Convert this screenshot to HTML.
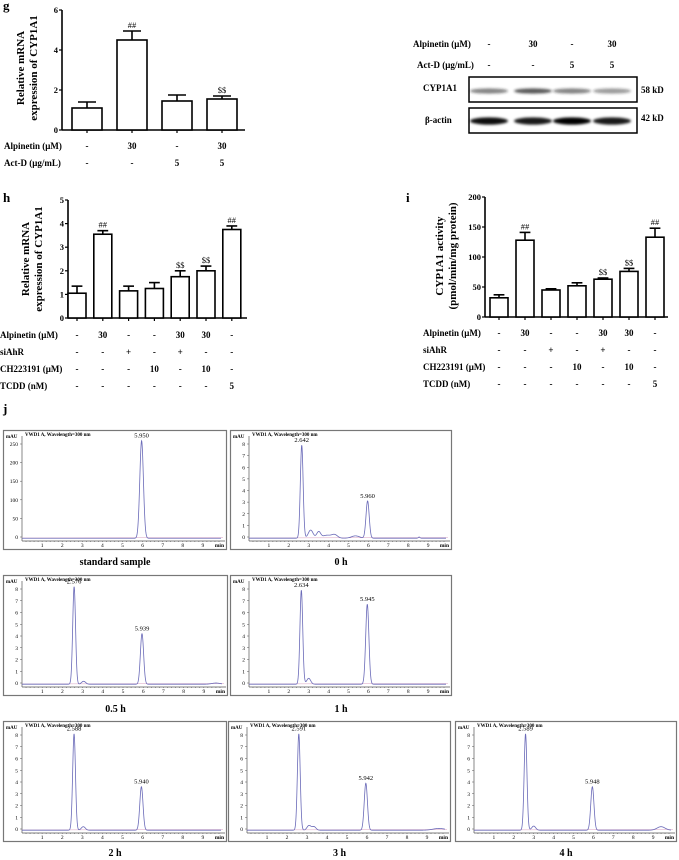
<!DOCTYPE html>
<html><head><meta charset="utf-8">
<style>
html,body{margin:0;padding:0;background:#fff;}
svg{display:block;font-family:"Liberation Serif",serif;}
.b{font-weight:bold;}
</style></head>
<body>
<svg id="fig" width="679" height="860" viewBox="0 0 679 860" xmlns="http://www.w3.org/2000/svg">
<defs><filter id="blur" x="-20%" y="-100%" width="140%" height="300%"><feGaussianBlur stdDeviation="1.2"/></filter></defs>
</svg>
<script>
// ---- panel g data ----
const gVals=[1.1,4.5,1.45,1.55];
const gErr=[0.3,0.45,0.3,0.15];
const gMarks=['','##','','$$'];
const gTicks=[0,2,4,6];
const gRows=['Alpinetin (μM)','Act-D (μg/mL)'];
const gRowVals=[['-','30','-','30'],['-','-','5','5']];
// ---- panel h data ----
const hVals=[1.05,3.55,1.15,1.25,1.75,2.0,3.75];
const hErr=[0.3,0.15,0.2,0.25,0.25,0.2,0.15];
const hMarks=['','##','','','$$','$$','##'];
const hTicks=[0,1,2,3,4,5];
// ---- panel i data ----
const iVals=[32,128,45,52,63,76,133];
const iErr=[5,13,2,5,2,5,15];
const iMarks=['','##','','','$$','$$','##'];
const iTicks=[0,50,100,150,200];
const hiRows=['Alpinetin (μM)','siAhR','CH223191 (μM)','TCDD (nM)'];
const hiRowVals=[['-','30','-','-','30','30','-'],['-','-','+','-','+','-','-'],['-','-','-','10','-','10','-'],['-','-','-','-','-','-','5']];
// ---- western blot ----
const blotLanes=['-','30','-','30'];
const blotActD=['-','-','5','5'];
const cypIntensity=[0.55,0.75,0.55,0.45];
const actinIntensity=[0.95,0.9,1.0,0.9];
// ---- chromatograms: peaks [time, height, width] ----
const chromNames=['standard sample','0 h','0.5 h','1 h','2 h','3 h','4 h'];
const chromMax=[280,8.6,8.6,8.6,8.6,8.6,8.6];
const chromTicks=[[0,50,100,150,200,250],[0,1,2,3,4,5,6,7,8],[0,1,2,3,4,5,6,7,8],[0,1,2,3,4,5,6,7,8],[0,1,2,3,4,5,6,7,8],[0,1,2,3,4,5,6,7,8],[0,1,2,3,4,5,6,7,8]];
const chromPeaks=[
 [[5.95,262,0.09]],
 [[2.65,8.0,0.07],[3.1,0.7,0.12],[3.5,0.55,0.1],[3.9,0.25,0.2],[4.3,0.3,0.15],[5.35,0.2,0.2],[5.96,3.2,0.08],[8.55,0.1,0.04]],
 [[2.58,8.3,0.07],[3.05,0.25,0.1],[5.94,4.3,0.08],[9.6,0.1,0.2]],
 [[2.63,8.0,0.07],[3.0,0.5,0.1],[5.945,6.8,0.08]],
 [[2.59,8.2,0.07],[3.05,0.3,0.1],[5.94,3.7,0.08]],
 [[2.59,8.2,0.07],[3.1,0.4,0.1],[3.35,0.3,0.1],[5.942,4.0,0.08],[9.6,0.15,0.3]],
 [[2.59,8.2,0.07],[3.0,0.35,0.1],[5.948,3.7,0.08],[9.4,0.3,0.2]]
];
const chromLabels=[[['5.950',5.95]],[['2.642',2.65],['5.960',5.96]],[['2.576',2.58],['5.939',5.94]],[['2.634',2.63],['5.945',5.945]],[['2.588',2.59],['5.940',5.94]],[['2.591',2.59],['5.942',5.942]],[['2.589',2.59],['5.948',5.948]]];

const NS='http://www.w3.org/2000/svg';
const svg=document.getElementById('fig');
function mk(tag,attrs,parent){const e=document.createElementNS(NS,tag);for(const k in attrs)e.setAttribute(k,attrs[k]);(parent||svg).appendChild(e);return e;}
function txt(s,x,y,size,anchor,parent,bold){const t=mk('text',{x:x,y:y,'font-size':size,'text-anchor':anchor||'start','font-weight':bold===false?'normal':'bold',fill:'#000'},parent);t.textContent=s;return t;}

// panel letters
let L;
L=txt('g',3,10,13,'start');


L=txt('h',3,202,13,'start');


L=txt('i',406,202,13,'start');


L=txt('j',3,413,13,'start');



function barChart(cfg){
 const g=mk('g',{});
 
 
 const y=v=>cfg.y0-v*cfg.k;
 const xc=i=>cfg.c0+i*cfg.sp;
 const top=y(cfg.ticks[cfg.ticks.length-1]);
 const ya=mk('line',{x1:cfg.ax,y1:top,x2:cfg.ax,y2:cfg.y0,stroke:'#000','stroke-width':1.6},g);
 
 
 const xa=mk('line',{x1:cfg.ax,y1:cfg.y0,x2:cfg.xe,y2:cfg.y0,stroke:'#000','stroke-width':1.6},g);
 
 
 cfg.ticks.forEach(t=>{
  mk('line',{x1:cfg.ax-3,y1:y(t),x2:cfg.ax,y2:y(t),stroke:'#000','stroke-width':1.2},g);
  const tl=txt(String(t),cfg.ax-4,y(t)+3,8.5,'end',g);
  
  
 });
 cfg.vals.forEach((v,i)=>{
  const x=xc(i);
  mk('line',{x1:x,y1:cfg.y0,x2:x,y2:cfg.y0+3,stroke:'#000','stroke-width':1.2},g);
  const eTop=y(v+cfg.err[i]);
  const el=mk('line',{x1:x,y1:y(v),x2:x,y2:eTop,stroke:'#000','stroke-width':1.6},g);
  
  
  mk('line',{x1:x-cfg.bw*0.3,y1:eTop,x2:x+cfg.bw*0.3,y2:eTop,stroke:'#000','stroke-width':1.6},g);
  const r=mk('rect',{x:x-cfg.bw/2,y:y(v),width:cfg.bw,height:cfg.y0-y(v),fill:'#fff',stroke:'#000','stroke-width':1.6},g);
  
  
  if(cfg.marks[i]){
   const m=txt(cfg.marks[i],x,eTop-3,8.5,'middle',g,false);
   
   
  }
 });
 cfg.title.forEach((s,j)=>{
  const t=txt(s,0,0,11,'middle',g);
  t.setAttribute('transform','translate('+cfg.tx[j]+','+cfg.ty+') rotate(-90)');
  
  
 });
 cfg.rows.forEach((s,r)=>{
  const t=txt(s,cfg.rx,cfg.ry+r*cfg.rsp,9,'start',g);
  
  
  cfg.rowVals[r].forEach((v,i)=>{
   const tv=txt(v,xc(i),cfg.ry+r*cfg.rsp,9,'middle',g);
   
   
  });
 });
}
barChart({name:'chart-g',vals:gVals,err:gErr,marks:gMarks,ticks:gTicks,ax:62,xe:245,y0:130,k:20,c0:87,sp:45,bw:30,
 title:['Relative mRNA','expression of CYP1A1'],tx:[24,37],ty:68,rows:gRows,rowVals:gRowVals,rx:4,ry:149,rsp:17});
barChart({name:'chart-h',vals:hVals,err:hErr,marks:hMarks,ticks:hTicks,ax:68,xe:247,y0:318,k:23.6,c0:77,sp:25.8,bw:18,
 title:['Relative mRNA','expression of CYP1A1'],tx:[29,42],ty:259,rows:hiRows,rowVals:hiRowVals,rx:0,ry:338,rsp:17});
barChart({name:'chart-i',vals:iVals,err:iErr,marks:iMarks,ticks:iTicks,ax:485,xe:668,y0:317,k:0.6,c0:499,sp:26,bw:18,
 title:['CYP1A1 activity','(pmol/min/mg protein)'],tx:[443,456],ty:256,rows:hiRows,rowVals:hiRowVals,rx:423,ry:336,rsp:17});

// western blot
(function(){
 const g=mk('g',{});
 
 
 const lanes=[489,533,572,612];
 let t=txt('Alpinetin (μM)',413,47,9,'start',g);
 
 
 t=txt('Act-D (μg/mL)',417,68,9,'start',g);
 
 
 blotLanes.forEach((v,i)=>{txt(v,lanes[i],47,9,'middle',g);txt(blotActD[i],lanes[i],68,9,'middle',g);});
 const b1=mk('rect',{x:469,y:77,width:168,height:25,fill:'#fff',stroke:'#000','stroke-width':1.5},g);
 
 
 const b2=mk('rect',{x:469,y:108,width:168,height:25,fill:'#fff',stroke:'#000','stroke-width':1.5},g);
 
 
 cypIntensity.forEach((a,i)=>{const e=mk('ellipse',{cx:lanes[i],cy:91,rx:19,ry:2.6,fill:'#222','fill-opacity':a,filter:'url(#blur)'},g);
  
  });
 actinIntensity.forEach((a,i)=>{const e=mk('ellipse',{cx:lanes[i],cy:121,rx:19,ry:3.6,fill:'#000','fill-opacity':a,filter:'url(#blur)'},g);
  
  });
 txt('CYP1A1',423,91,9,'start',g);
 txt('β-actin',425,123,9,'start',g);
 txt('58 kD',641,93,9,'start',g);
 txt('42 kD',641,121,9,'start',g);
})();

// chromatograms
const boxes=[[3,430,224,120],[230,430,222,120],[3,575,225,121],[230,575,222,121],[3,721,224,121],[228,721,223,121],[455,721,222,121]];
const labelY=[565,565,712,712,856,856,856];
boxes.forEach((bx,n)=>{
 const [X,Y,W,H]=bx;
 const g=mk('g',{transform:'translate('+X+','+Y+')'});
 
 
 mk('rect',{x:0.5,y:0.5,width:W-1,height:H-1,fill:'#fff',stroke:'#777','stroke-width':1.2},g);
 const x0=19,pxm=(W-25)/9.9,yb=H-13,ytop=14;
 const max=chromMax[n];
 const k=(yb-ytop)/(chromTicks[n][chromTicks[n].length-1]);
 const sx=t=>x0+t*pxm, sy=v=>yb-v*k;
 mk('line',{x1:x0,y1:ytop-8,x2:x0,y2:H-9,stroke:'#555','stroke-width':0.7},g);
 mk('line',{x1:x0,y1:H-9,x2:W-2,y2:H-9,stroke:'#555','stroke-width':0.7},g);
 for(let t=0.2;t<9.95;t+=0.2){mk('line',{x1:sx(t),y1:H-9,x2:sx(t),y2:H-8,stroke:'#555','stroke-width':0.5},g);}
 for(let t=1;t<=9;t++){txt(String(t),sx(t),H-3,5.5,'middle',g,false);}
 txt('min',W-3,H-3,5.5,'end',g);
 chromTicks[n].forEach(v=>{mk('line',{x1:x0-2,y1:sy(v),x2:x0,y2:sy(v),stroke:'#555','stroke-width':0.5},g);txt(String(v),x0-4,sy(v)+2,5.5,'end',g,false);});
 txt('mAU',3,8,5,'start',g);
 txt('VWD1 A, Wavelength=300 nm',x0+3,6,5,'start',g);
 // baseline marker
 mk('line',{x1:x0,y1:sy(0)+1,x2:W-4,y2:sy(0)+0.5,stroke:'#d9a0c0','stroke-width':0.5},g);
 let d='';
 for(let t=0;t<=9.9;t+=0.01){
  let v=-0.012*max;
  chromPeaks[n].forEach(p=>{v+=p[1]*Math.exp(-Math.pow(t-p[0],2)/(2*p[2]*p[2]));});
  d+=(d?'L':'M')+sx(t).toFixed(2)+','+sy(v).toFixed(2);
 }
 const path=mk('path',{d:d,fill:'none',stroke:'#6a6ab8','stroke-width':0.8},g);
 
 
 chromLabels[n].forEach(l=>{
  let h=0;chromPeaks[n].forEach(p=>{if(Math.abs(p[0]-l[1])<0.02)h=p[1];});
  const pl=txt(l[0],sx(l[1]),sy(h)-2,6.5,'middle',g,false);
  
  
 });
 const cap=txt(chromNames[n],X+W/2,labelY[n],10,'middle');
 
 
});
</script>
</body></html>
